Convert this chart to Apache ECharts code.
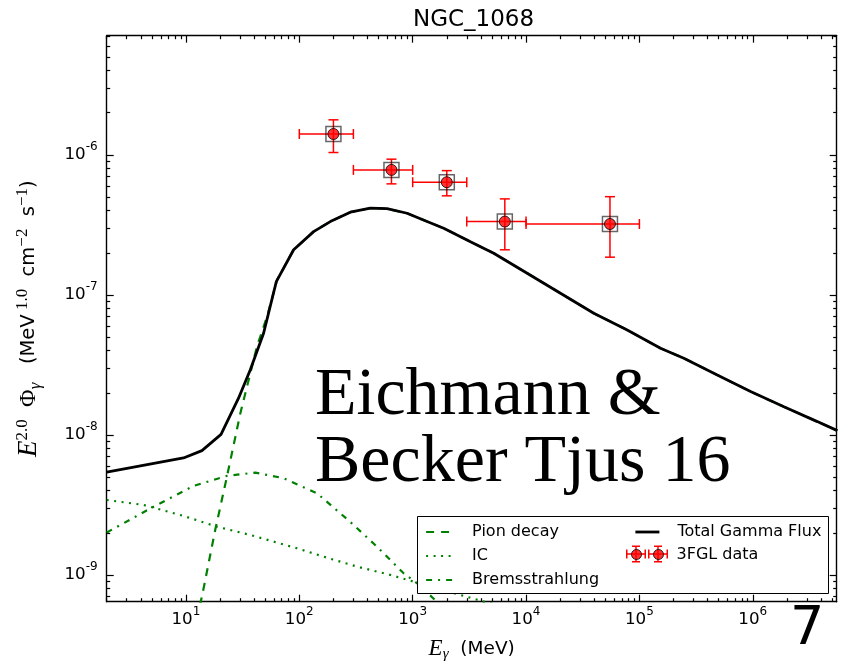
<!DOCTYPE html>
<html><head><meta charset="utf-8">
<script src="https://cdn.jsdelivr.net/npm/echarts@6/dist/echarts.min.js"></script>
<style>html,body{margin:0;padding:0;background:#fff}#c{width:857px;height:664px}</style>
</head><body><div id="c"></div>
<script>
// ---------------- data ----------------
const chartTitle = 'NGC_1068';

const totalE = [2.0, 9.52, 13.84, 20.4, 29.1, 36.9, 48.4, 62.7, 89.1, 133.7, 187.7, 281.9, 423.3, 594, 892.5, 1340, 1877, 3231, 5187, 10226, 20120, 39580, 78060, 153600, 246600, 486100, 956400, 1882000, 3709000, 5570000];
const totalFlux = [5.42e-9, 6.85e-9, 7.72e-9, 1.008e-8, 1.83e-8, 2.91e-8, 5.32e-8, 1.245e-7, 2.10e-7, 2.83e-7, 3.34e-7, 3.90e-7, 4.16e-7, 4.13e-7, 3.83e-7, 3.34e-7, 2.996e-7, 2.40e-7, 1.985e-7, 1.429e-7, 1.028e-7, 7.40e-8, 5.62e-8, 4.16e-8, 3.53e-8, 2.68e-8, 2.04e-8, 1.59e-8, 1.245e-8, 1.073e-8];

const pionE = [12.33, 13.84, 18.14, 23.0, 30.2, 42.3, 51.9, 63.6, 89.1, 133.7, 187.7, 281.9, 423.3, 594, 892.5, 1340, 1877, 3231, 5187, 10226, 20120, 39580, 78060, 153600, 246600, 486100, 956400, 1882000, 3709000, 5570000];
const pionFlux = [4.77e-10, 7.00e-10, 2.10e-9, 5.04e-9, 1.429e-8, 4.27e-8, 7.00e-8, 1.28e-7, 2.10e-7, 2.83e-7, 3.34e-7, 3.90e-7, 4.16e-7, 4.13e-7, 3.83e-7, 3.34e-7, 2.996e-7, 2.40e-7, 1.985e-7, 1.429e-7, 1.028e-7, 7.40e-8, 5.62e-8, 4.16e-8, 3.53e-8, 2.68e-8, 2.04e-8, 1.59e-8, 1.245e-8, 1.073e-8];

const icE = [2.0, 4.23, 9.52, 18.8, 36.9, 95.4, 163.9, 323, 635.7, 1020, 4040, 8900];
const icFlux = [3.43e-9, 3.16e-9, 2.64e-9, 2.21e-9, 1.93e-9, 1.55e-9, 1.35e-9, 1.147e-9, 1.0e-9, 8.96e-10, 6.52e-10, 5.45e-10];

const bremsE = [2.0, 5.18, 11.67, 23.0, 40.9, 72.7, 143.3, 281.9, 485, 833, 1094, 1756];
const bremsFlux = [2.01e-9, 3.07e-9, 4.32e-9, 5.10e-9, 5.38e-9, 4.91e-9, 3.83e-9, 2.39e-9, 1.59e-9, 1.028e-9, 8.72e-10, 6.1e-10];

const fglE = [200, 650, 2000, 6500, 55000];
const fglELow = [100, 300, 1000, 3000, 10000];
const fglEHigh = [300, 1000, 3000, 10000, 100000];
const fglFlux = [1.41e-6, 7.81e-7, 6.38e-7, 3.34e-7, 3.21e-7];
const fglFluxLow = [1.04e-6, 6.21e-7, 5.10e-7, 2.10e-7, 1.86e-7];
const fglFluxHigh = [1.78e-6, 9.32e-7, 7.72e-7, 4.85e-7, 5.03e-7];

const xMajorTicks = [10, 100, 1000, 10000, 100000, 1000000];
const yMajorTicks = [1e-9, 1e-8, 1e-7, 1e-6];
const xRange = [2, 5.5e6];
const yRange = [6.44e-10, 7.1e-6];

const legendNames = ['Pion decay', 'IC', 'Bremsstrahlung', 'Total Gamma Flux', '3FGL data'];
const xAxisTitle = ['E', 'γ', '  (MeV)'];
const watermark = ['Eichmann &', 'Becker Tjus 16'];
const panelNumber = '7';

// ---------------- helpers ----------------
function minorTicks(lo, hi) {
  const out = [];
  for (let d = Math.floor(Math.log10(lo)); d <= Math.ceil(Math.log10(hi)); d++) {
    for (let k = 2; k <= 9; k++) {
      const v = parseFloat((k * Math.pow(10, d)).toPrecision(6));
      if (v >= lo && v <= hi) out.push(v);
    }
  }
  return out;
}
function pairs(xs, ys) { return xs.map((x, i) => [x, ys[i]]); }
function powLabel(v) { return '{b|10}{s|' + Math.round(Math.log10(v)) + '}'; }

const SANS = 'DejaVu Sans';
const SERIF = 'Liberation Serif';
const tickRich = {
  b: { fontFamily: SANS, fontSize: 16.7, lineHeight: 28, verticalAlign: 'middle', color: '#000' },
  s: { fontFamily: SANS, fontSize: 12, lineHeight: 12, verticalAlign: 'top', color: '#000' }
};
const spine = { show: true, onZero: false, lineStyle: { color: '#000', width: 1.4 } };

function makeAxis(kind, pos, major, withLabels, range, extra) {
  const ticks = major ? (kind === 'x' ? xMajorTicks : yMajorTicks) : minorTicks(range[0], range[1]);
  const ax = {
    type: 'log', logBase: 10, min: range[0], max: range[1], position: pos, gridIndex: 0,
    axisLine: major ? spine : { show: false },
    axisTick: { show: true, inside: true, length: major ? 7 : 3.5, customValues: ticks, lineStyle: { color: '#000', width: 1.2 } },
    axisLabel: withLabels ? {
      show: true, customValues: ticks, formatter: powLabel, rich: tickRich,
      margin: kind === 'x' ? 4 : 9, color: '#000'
    } : { show: false },
    splitLine: { show: false }, minorTick: { show: false }, minorSplitLine: { show: false }
  };
  return Object.assign(ax, extra || {});
}

const errData = fglE.map((e, i) => [e, fglFlux[i], fglELow[i], fglEHigh[i], fglFluxLow[i], fglFluxHigh[i]]);

const barsIcon = 'path://' + [10, 32].map(c =>
  `M${c-10},7.75h20v1.5h-20z M${c-10},4h1.5v9h-1.5z M${c+8.5},4h1.5v9h-1.5z M${c-0.75},0h1.5v17h-1.5z M${c-4},0h8v1.5h-8z M${c-4},15.5h8v1.5h-8z`
).join(' ');
const circlesIcon = 'path://M0,0h0.01v0.01h-0.01z M41.99,16.99h0.01v0.01h-0.01z ' + [10, 32].map(c =>
  `M${c+5},8.5A5,5,0,1,1,${c-5},8.5A5,5,0,1,1,${c+5},8.5Z`).join(' ');

const legendText = { fontFamily: SANS, fontSize: 16, color: '#000', lineHeight: 18, padding: [0, 0, 0, 13] };

const chart = echarts.init(document.getElementById('c'), null, { renderer: 'canvas' });
const option = {
  animation: false,
  backgroundColor: '#fff',
  title: {
    text: chartTitle, left: 413, top: 7, padding: 0,
    textStyle: { fontFamily: SANS, fontSize: 23, fontWeight: 'normal', color: '#000', lineHeight: 26 }
  },
  grid: { left: 106.7, right: 20.3, top: 35.7, bottom: 62.3, containLabel: false, outerBoundsMode: 'none' },
  xAxis: [
    makeAxis('x', 'bottom', true, true, xRange, {
      name: `{E|${xAxisTitle[0]}}{g|${xAxisTitle[1]}}{t|${xAxisTitle[2]}}`,
      nameLocation: 'middle', nameGap: 34,
      nameTextStyle: { rich: {
        E: { fontFamily: SERIF, fontStyle: 'italic', fontSize: 23, lineHeight: 26, verticalAlign: 'middle', color: '#000' },
        g: { fontFamily: SERIF, fontStyle: 'italic', fontSize: 15, lineHeight: 15, verticalAlign: 'bottom', color: '#000' },
        t: { fontFamily: SANS, fontSize: 18.5, lineHeight: 26, verticalAlign: 'middle', color: '#000' }
      } }
    }),
    makeAxis('x', 'bottom', false, false, xRange),
    makeAxis('x', 'top', true, false, xRange),
    makeAxis('x', 'top', false, false, xRange)
  ],
  yAxis: [
    makeAxis('y', 'left', true, true, yRange, {
      name: '{E|E}{p|2.0}{t|  }{P|Φ}{g|γ}{t|   (MeV}{p| 1.0}{t|  cm}{p|−2}{t|  s}{p|−1}{t|)}',
      nameLocation: 'middle', nameRotate: 90, nameGap: 63,
      nameTextStyle: { rich: {
        E: { fontFamily: SERIF, fontStyle: 'italic', fontSize: 27, lineHeight: 30, verticalAlign: 'middle', color: '#000' },
        P: { fontFamily: SERIF, fontSize: 24, lineHeight: 30, verticalAlign: 'middle', color: '#000' },
        p: { fontFamily: SERIF, fontSize: 17, lineHeight: 14, verticalAlign: 'top', color: '#000' },
        g: { fontFamily: SERIF, fontStyle: 'italic', fontSize: 17, lineHeight: 17, verticalAlign: 'bottom', color: '#000' },
        t: { fontFamily: SANS, fontSize: 19.5, lineHeight: 30, verticalAlign: 'middle', color: '#000' }
      } }
    }),
    makeAxis('y', 'left', false, false, yRange),
    makeAxis('y', 'right', true, false, yRange),
    makeAxis('y', 'right', false, false, yRange)
  ],
  legend: [
    { data: legendNames.slice(0, 3), orient: 'vertical', left: 425, top: 523, padding: 0,
      itemWidth: 28, itemHeight: 14, itemGap: 6, selectedMode: false, z: 20,
      textStyle: legendText, itemStyle: { opacity: 0 }, lineStyle: { width: 2.2 } },
    { data: [legendNames[3]], orient: 'vertical', left: 634, top: 523, padding: 0,
      itemWidth: 24, itemHeight: 14, selectedMode: false, z: 20,
      textStyle: legendText, itemStyle: { opacity: 0 }, lineStyle: { width: 2.8 } },
    { data: [{ name: '3FGL error bars', icon: barsIcon }], left: 626, top: 545.5, padding: 0,
      itemWidth: 42, itemHeight: 17, selectedMode: false, z: 20, formatter: () => '',
      itemStyle: { color: '#ff0000', borderWidth: 0 } },
    { data: [{ name: legendNames[4], icon: circlesIcon }], left: 626, top: 545.5, padding: 0,
      itemWidth: 42, itemHeight: 17, selectedMode: false, z: 21,
      textStyle: Object.assign({}, legendText, { padding: [0, 0, 0, 3] }),
      itemStyle: { color: '#ff0000', borderColor: '#000', borderWidth: 1 } }
  ],
  graphic: [
    { type: 'rect', z: 15, shape: { x: 417.5, y: 516.5, width: 411, height: 77 },
      style: { fill: '#fff', stroke: '#000', lineWidth: 1 } },
    { type: 'text', z: 16, x: 315, y: 363, style: { text: watermark.join('\n'), fontFamily: SERIF, fontSize: 68, lineHeight: 66.7, fill: '#000', verticalAlign: 'top', align: 'left' } },
    { type: 'text', z: 16, x: 790, y: 630, style: { text: panelNumber, fontFamily: SANS, fontSize: 54, fill: '#000', verticalAlign: 'middle', align: 'left' } }
  ],
  series: [
    { name: legendNames[0], type: 'line', data: pairs(pionE, pionFlux), symbol: 'none', z: 2,
      lineStyle: { color: '#008000', width: 2.2, type: [8, 7] }, itemStyle: { color: '#008000' } },
    { name: legendNames[1], type: 'line', data: pairs(icE, icFlux), symbol: 'none', z: 2,
      lineStyle: { color: '#008000', width: 2.2, type: [2, 5.5] }, itemStyle: { color: '#008000' } },
    { name: legendNames[2], type: 'line', data: pairs(bremsE, bremsFlux), symbol: 'none', z: 2,
      lineStyle: { color: '#008000', width: 2.2, type: [6, 6, 2, 6] }, itemStyle: { color: '#008000' } },
    { name: legendNames[3], type: 'line', data: pairs(totalE, totalFlux), symbol: 'none', z: 3,
      lineStyle: { color: '#000', width: 2.8 }, itemStyle: { color: '#000' } },
    { name: '3FGL error bars', type: 'custom', data: errData, encode: { x: 0, y: 1 }, z: 4,
      itemStyle: { color: '#ff0000' },
      renderItem: function (params, api) {
        const c = api.coord([api.value(0), api.value(1)]);
        const xl = api.coord([api.value(2), api.value(1)])[0];
        const xh = api.coord([api.value(3), api.value(1)])[0];
        const yl = api.coord([api.value(0), api.value(4)])[1];
        const yh = api.coord([api.value(0), api.value(5)])[1];
        const cap = 5, st = { stroke: '#ff0000', lineWidth: 1.5 };
        const L = (x1, y1, x2, y2) => ({ type: 'line', shape: { x1, y1, x2, y2 }, style: st });
        return { type: 'group', children: [
          L(xl, c[1], xh, c[1]), L(xl, c[1] - cap, xl, c[1] + cap), L(xh, c[1] - cap, xh, c[1] + cap),
          L(c[0], yl, c[0], yh), L(c[0] - cap, yl, c[0] + cap, yl), L(c[0] - cap, yh, c[0] + cap, yh)
        ] };
      } },
    { name: '3FGL squares', type: 'scatter', data: pairs(fglE, fglFlux), symbol: 'rect', symbolSize: 15, z: 5,
      itemStyle: { color: 'rgba(0,0,0,0)', borderColor: 'rgba(0,0,0,0.75)', borderWidth: 1.5 } },
    { name: legendNames[4], type: 'scatter', data: pairs(fglE, fglFlux), symbol: 'circle', symbolSize: 11, z: 6,
      itemStyle: { color: '#ff0000', borderColor: '#000', borderWidth: 1 } }
  ]
};
chart.setOption(option);
</script>
</body></html>
